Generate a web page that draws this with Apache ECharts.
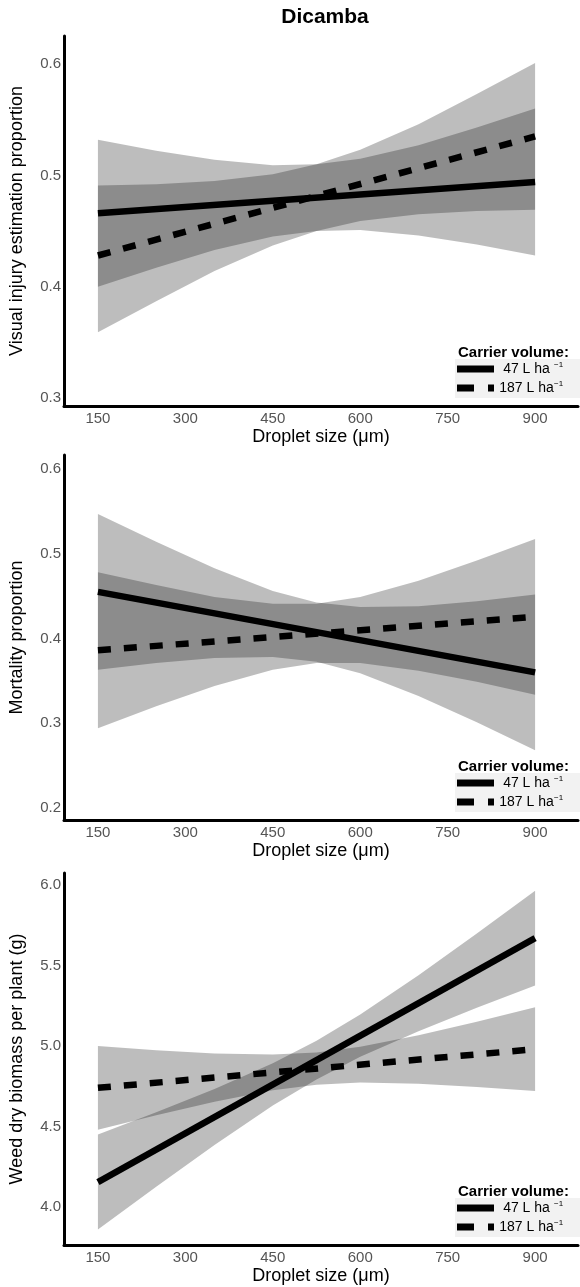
<!DOCTYPE html>
<html><head><meta charset="utf-8">
<script src="https://cdn.jsdelivr.net/npm/echarts@6/dist/echarts.min.js"></script>
<style>html,body{margin:0;padding:0;background:#fff}#c{width:580px;height:1287px}</style>
</head><body><div id="c"></div>
<script>
// ---- data ----
const bandX = [150, 250, 350, 450, 525, 600, 700, 800, 900];
const lineX = [150, 900];
const xTicks = [150, 300, 450, 600, 750, 900];
const seriesNames = ['47 L ha-1', '187 L ha-1'];
const legendLabels = ['47 L ha', '187 L ha'];

// Panel 1: Visual injury estimation proportion
const p1Ticks = [0.3, 0.4, 0.5, 0.6];
const p1Solid = [0.466, 0.494];
const p1Dashed = [0.428, 0.535];
const p1ALow = [0.400, 0.417, 0.433, 0.445, 0.450, 0.451, 0.446, 0.438, 0.428];
const p1AHigh = [0.532, 0.522, 0.514, 0.509, 0.510, 0.515, 0.527, 0.543, 0.560];
const p1BLow = [0.359, 0.387, 0.414, 0.437, 0.450, 0.459, 0.465, 0.468, 0.469];
const p1BHigh = [0.491, 0.492, 0.495, 0.501, 0.510, 0.523, 0.546, 0.573, 0.601];

// Panel 2: Mortality proportion
const p2Ticks = [0.2, 0.3, 0.4, 0.5, 0.6];
const p2Solid = [0.455, 0.360];
const p2Dashed = [0.386, 0.4255];
const p2ALow = [0.363, 0.371, 0.377, 0.378, 0.3725, 0.359, 0.332, 0.301, 0.268];
const p2AHigh = [0.547, 0.514, 0.483, 0.456, 0.4425, 0.437, 0.438, 0.444, 0.452];
const p2BLow = [0.294, 0.320, 0.344, 0.363, 0.371, 0.371, 0.362, 0.349, 0.3335];
const p2BHigh = [0.478, 0.463, 0.449, 0.441, 0.441, 0.449, 0.468, 0.492, 0.5175];

// Panel 3: Weed dry biomass per plant (g)
const p3Ticks = [4.0, 4.5, 5.0, 5.5, 6.0];
const p3Solid = [4.155, 5.670];
const p3Dashed = [4.740, 4.980];
const p3ALow = [3.860, 4.126, 4.385, 4.630, 4.7925, 4.9325, 5.092, 5.237, 5.375];
const p3AHigh = [4.450, 4.588, 4.733, 4.893, 5.0325, 5.1955, 5.440, 5.699, 5.965];
const p3BLow = [4.480, 4.570, 4.654, 4.725, 4.760, 4.773, 4.766, 4.746, 4.720];
const p3BHigh = [5.000, 4.974, 4.954, 4.947, 4.960, 4.995, 5.066, 5.150, 5.240];

// ---- layout ----
const FONT = 'Liberation Sans, Arial, sans-serif';
const panels = [
  {top: 36, height: 370, yMin: 0.2928, yMax: 0.6252, ticks: p1Ticks, name: 'Visual injury estimation proportion',
   solid: p1Solid, dashed: p1Dashed, bands: [[p1ALow, p1AHigh], [p1BLow, p1BHigh]]},
  {top: 455, height: 365, yMin: 0.1858, yMax: 0.6165, ticks: p2Ticks, name: 'Mortality proportion',
   solid: p2Solid, dashed: p2Dashed, bands: [[p2ALow, p2AHigh], [p2BLow, p2BHigh]]},
  {top: 873, height: 372, yMin: 3.764, yMax: 6.0745, ticks: p3Ticks, name: 'Weed dry biomass per plant (g)',
   solid: p3Solid, dashed: p3Dashed, bands: [[p3ALow, p3AHigh], [p3BLow, p3BHigh]]}
];

const grid = [], xAxis = [], yAxis = [], series = [], legend = [];
const title = [{text: 'Dicamba', left: 320, top: 2, textAlign: 'center',
  textStyle: {fontFamily: FONT, fontSize: 21, fontWeight: 'bold', color: '#000'}}];

const solidIcon = 'path://M0,0H37V7H0Z';
const dashIcon = 'path://M0,0H17V7H0Z M31,0H37V7H31Z';

panels.forEach((p, i) => {
  grid.push({left: 63, width: 515, top: p.top, height: p.height, containLabel: false});
  xAxis.push({type: 'value', gridIndex: i, min: 91.8, max: 973.6,
    name: 'Droplet size (\u03bcm)', nameLocation: 'middle', nameGap: 22,
    nameTextStyle: {fontFamily: FONT, fontSize: 18, color: '#000'},
    axisLine: {show: true, onZero: false, lineStyle: {color: '#000', width: 3}},
    axisTick: {show: false},
    splitLine: {show: false},
    axisLabel: {customValues: xTicks, margin: 5, fontFamily: FONT, fontSize: 15, color: '#555'}
  });
  yAxis.push({type: 'value', gridIndex: i, min: p.yMin, max: p.yMax,
    name: p.name, nameLocation: 'middle', nameGap: 38,
    nameTextStyle: {fontFamily: FONT, fontSize: 18, color: '#000'},
    axisLine: {show: true, onZero: false, lineStyle: {color: '#000', width: 3}},
    axisTick: {show: false},
    splitLine: {show: false},
    axisLabel: {customValues: p.ticks, margin: 3, fontFamily: FONT, fontSize: 15, color: '#555',
      formatter: v => v.toFixed(1)}
  });
  p.bands.forEach((b) => {
    const lo = b[0], hi = b[1];
    series.push({type: 'custom', xAxisIndex: i, yAxisIndex: i, silent: true, clip: true, z: 1,
      data: [[bandX[0], lo[0]]],
      renderItem: (params, api) => {
        const pts = [];
        for (let j = 0; j < bandX.length; j++) pts.push(api.coord([bandX[j], hi[j]]));
        for (let j = bandX.length - 1; j >= 0; j--) pts.push(api.coord([bandX[j], lo[j]]));
        return {type: 'polygon', shape: {points: pts}, style: {fill: 'rgba(0,0,0,0.26)'}};
      }
    });
  });
  series.push({type: 'line', name: seriesNames[0], xAxisIndex: i, yAxisIndex: i, z: 5,
    data: lineX.map((x, j) => [x, p.solid[j]]), showSymbol: false, silent: true,
    itemStyle: {color: '#000'}, lineStyle: {color: '#000', width: 6.5, cap: 'butt'}});
  series.push({type: 'line', name: seriesNames[1], xAxisIndex: i, yAxisIndex: i, z: 5,
    data: lineX.map((x, j) => [x, p.dashed[j]]), showSymbol: false, silent: true,
    itemStyle: {color: '#000'}, lineStyle: {color: '#000', width: 6.5, type: [13, 13], cap: 'butt'}});

  const axisBottom = p.top + p.height;
  title.push({text: 'Carrier volume:', left: 453, top: axisBottom - 66,
    textStyle: {fontFamily: FONT, fontSize: 15, fontWeight: 'bold', color: '#000'}});
  legend.push({orient: 'vertical', left: 455, top: axisBottom - 47, itemWidth: 37, itemHeight: 7,
    itemGap: 4, padding: [2, 20, 3, 2], backgroundColor: '#f2f2f2', selectedMode: false,
    itemStyle: {borderWidth: 0},
    data: [{name: seriesNames[0], icon: solidIcon}, {name: seriesNames[1], icon: dashIcon}],
    formatter: name => '{n|' + legendLabels[seriesNames.indexOf(name)] + '}{s|\u22121}',
    textStyle: {fontFamily: FONT, fontSize: 14, color: '#000',
      rich: {n: {fontFamily: FONT, fontSize: 14, color: '#000', width: 55, align: 'right', lineHeight: 16},
             s: {fontFamily: FONT, fontSize: 8, color: '#000', verticalAlign: 'top', lineHeight: 9}}}
  });
});

const chart = echarts.init(document.getElementById('c'), null, {renderer: 'canvas'});
chart.setOption({animation: false, backgroundColor: '#fff', title, grid, xAxis, yAxis, series, legend});
</script></body></html>
